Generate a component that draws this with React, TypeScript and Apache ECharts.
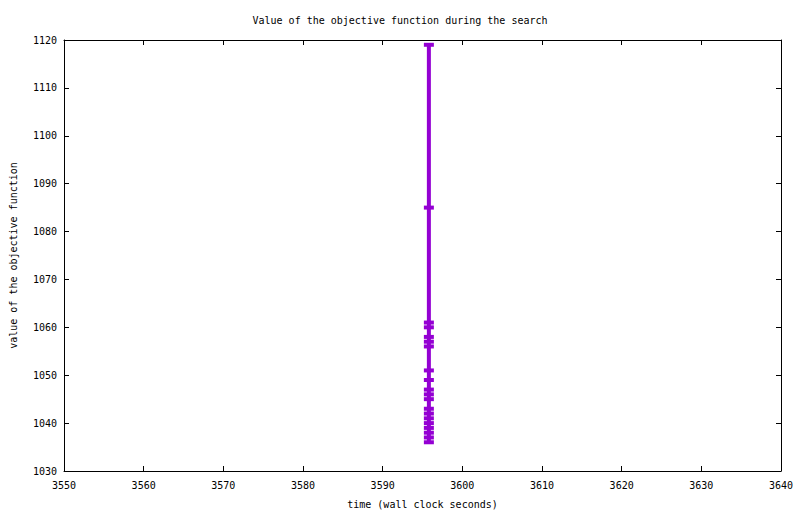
import React, { useEffect, useRef } from "react";
import * as echarts from "echarts";

const title = "Value of the objective function during the search";
const xName = "time (wall clock seconds)";
const yName = "value of the objective function";
const times = [3595.8, 3595.8, 3595.8, 3595.8, 3595.8, 3595.8, 3595.8, 3595.8, 3595.8, 3595.8, 3595.8, 3595.8, 3595.8, 3595.8, 3595.8, 3595.8, 3595.8, 3595.8, 3595.8, 3595.8];
const values = [1119, 1085, 1061, 1060, 1058, 1057, 1056, 1051, 1049, 1047, 1046, 1045, 1043, 1042, 1041, 1040, 1039, 1038, 1037, 1036];
const xRange = [3550, 3640];
const yRange = [1030, 1120];

const FONT = "'DejaVu Sans Mono', monospace";

export default function App() {
  const ref = useRef<HTMLDivElement>(null);
  useEffect(() => {
    if (!ref.current) return;
    const chart = echarts.init(ref.current, undefined, { renderer: "svg" });
    const data = times.map((t, i) => [t, values[i]]);
    const axisLine = { show: true, lineStyle: { color: "#000", width: 1 } };
    const tick = { show: true, inside: true, length: 5, lineStyle: { color: "#000", width: 1 } };
    const label = {
      color: "#000",
      fontFamily: FONT,
      fontSize: 10,
      formatter: (v: number) => String(v),
    };
    const nameStyle = { fontFamily: FONT, fontSize: 10, color: "#000" };
    chart.setOption({
      animation: false,
      backgroundColor: "#fff",
      title: {
        text: title,
        left: "center",
        top: 10,
        textStyle: { fontFamily: FONT, fontSize: 10, fontWeight: "normal", color: "#000" },
      },
      grid: { left: 58, top: 40, right: 19, bottom: 42, containLabel: false },
      xAxis: [
        {
          type: "value",
          min: xRange[0],
          max: xRange[1],
          interval: 10,
          axisLine,
          axisTick: tick,
          splitLine: { show: false },
          axisLabel: { ...label, margin: 9 },
          name: xName,
          nameLocation: "middle",
          nameGap: 28,
          nameTextStyle: nameStyle,
        },
        {
          type: "value",
          position: "top",
          min: xRange[0],
          max: xRange[1],
          interval: 10,
          axisLine,
          axisTick: tick,
          splitLine: { show: false },
          axisLabel: { show: false },
        },
      ],
      yAxis: [
        {
          type: "value",
          min: yRange[0],
          max: yRange[1],
          interval: 10,
          axisLine,
          axisTick: tick,
          splitLine: { show: false },
          axisLabel: { ...label, margin: 7 },
          name: yName,
          nameLocation: "middle",
          nameGap: 46,
          nameTextStyle: nameStyle,
        },
        {
          type: "value",
          position: "right",
          min: yRange[0],
          max: yRange[1],
          interval: 10,
          axisLine,
          axisTick: tick,
          splitLine: { show: false },
          axisLabel: { show: false },
        },
      ],
      series: [
        {
          type: "line",
          data,
          xAxisIndex: 0,
          yAxisIndex: 0,
          lineStyle: { color: "#9400D3", width: 4 },
          itemStyle: { color: "#9400D3" },
          symbol: "rect",
          symbolSize: [10, 4],
          showSymbol: true,
          showAllSymbol: true,
        },
      ],
    });
    return () => chart.dispose();
  }, []);
  return (
    <div
      ref={ref}
      style={{ position: "fixed", left: 0, top: 0, width: 800, height: 514, background: "#fff" }}
    />
  );
}
